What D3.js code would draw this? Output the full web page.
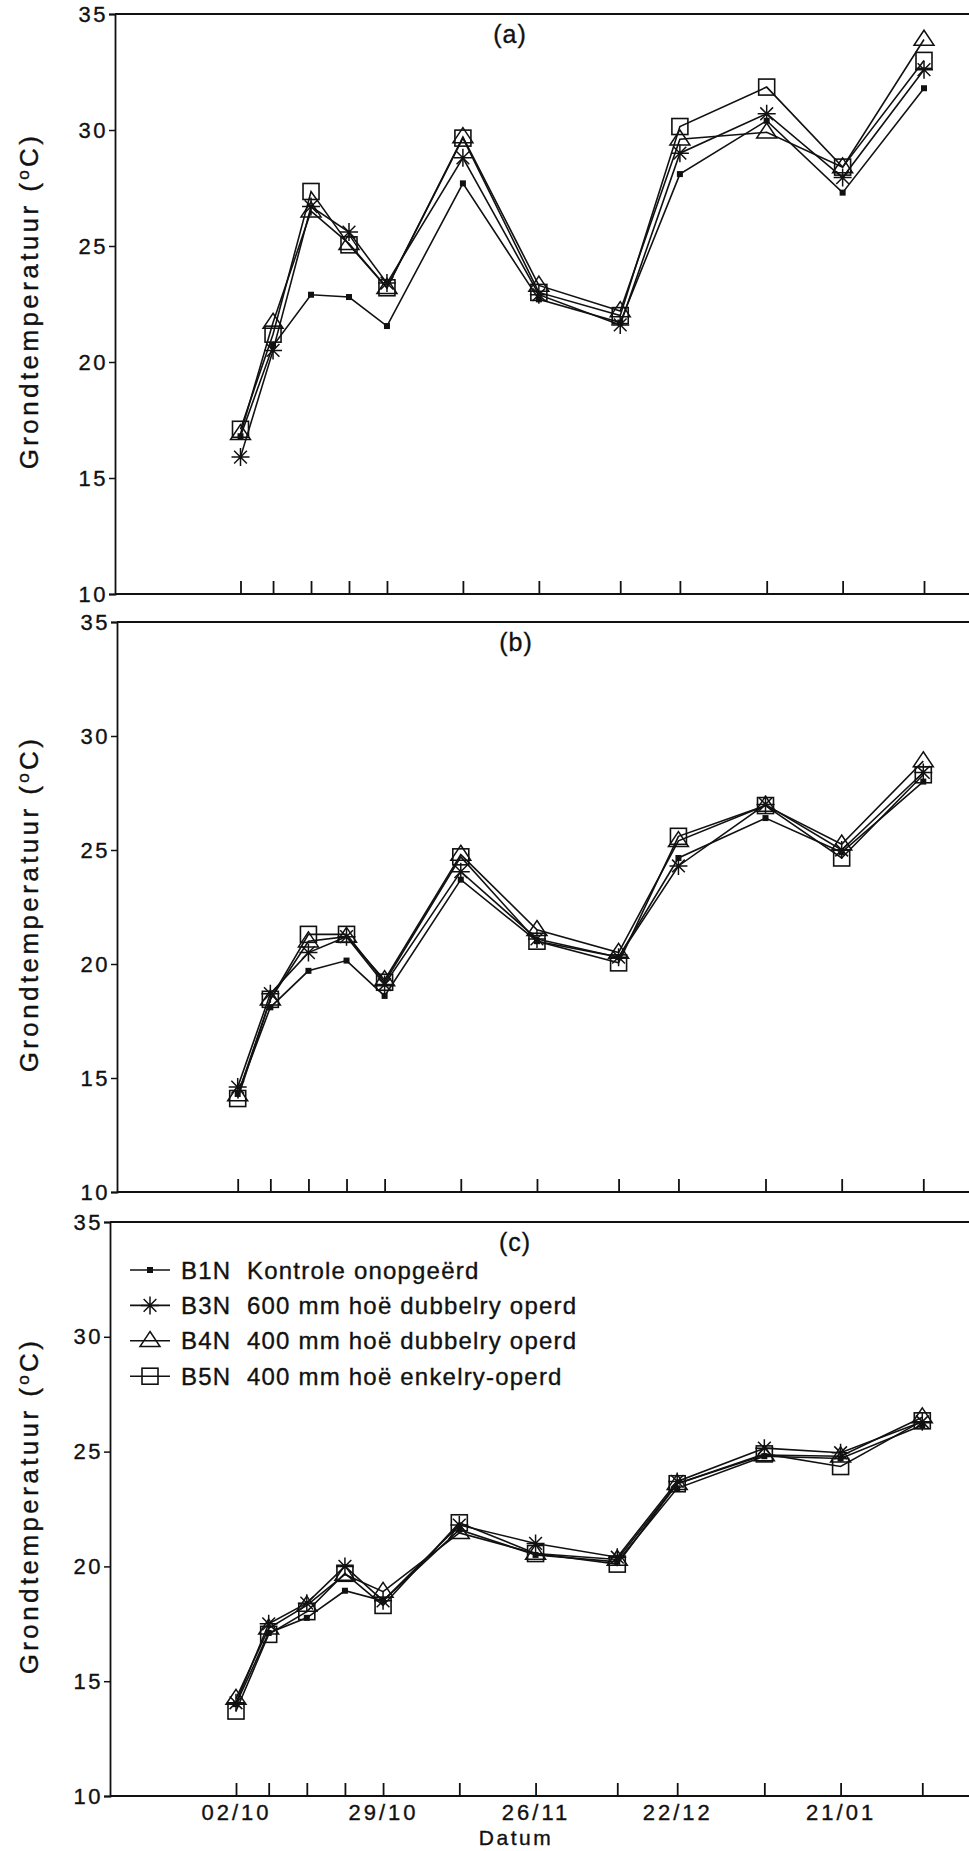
<!DOCTYPE html>
<html>
<head>
<meta charset="utf-8">
<script src="https://cdn.jsdelivr.net/npm/d3@7"></script>
<style>
  html, body { margin: 0; padding: 0; background: #fff; }
  svg { display: block; }
  text { font-family: "Liberation Sans", Arial, Helvetica, sans-serif; fill: #111; stroke: #111; stroke-width: 0.35px; }
</style>
</head>
<body>
<svg id="chart" width="969" height="1851"></svg>
<script>
// Measurement dates (day/month), shared by the three depth panels
const dates = ["1991-10-02", "1991-10-08", "1991-10-15", "1991-10-22", "1991-10-29",
               "1991-11-12", "1991-11-26", "1991-12-11", "1991-12-22", "1992-01-07",
               "1992-01-21", "1992-02-05"];
const labelledDates = ["1991-10-02", "1991-10-29", "1991-11-26", "1991-12-22", "1992-01-21"];
const yTicks = [10, 15, 20, 25, 30, 35];

const seriesNames = ["B1N", "B3N", "B4N", "B5N"];
const legendLabels = [
  "B1N  Kontrole onopgeërd",
  "B3N  600 mm hoë dubbelry operd",
  "B4N  400 mm hoë dubbelry operd",
  "B5N  400 mm hoë enkelry-operd"
];
const panelTags = ["(a)", "(b)", "(c)"];

// Soil temperature (°C), panel (a)
const b1nA = [16.8, 20.7, 22.9, 22.8, 21.55, 27.7, 22.7, 21.7, 28.1, 30.4, 27.3, 31.8];
const b3nA = [15.9, 20.5, 26.7, 25.6, 23.4, 28.8, 22.9, 21.6, 29.0, 30.7, 27.95, 32.6];
const b4nA = [16.9, 21.7, 26.5, 25.1, 23.2, 29.7, 23.3, 22.2, 29.6, 29.9, 28.4, 33.9];
const b5nA = [17.1, 21.2, 27.35, 25.05, 23.2, 29.65, 23.0, 22.0, 30.15, 31.85, 28.4, 33.0];

// panel (b)
const b1nB = [14.3, 18.1, 19.7, 20.15, 18.6, 23.7, 21.0, 20.3, 24.65, 26.4, 24.9, 28.0];
const b3nB = [14.6, 18.7, 20.5, 21.2, 19.1, 24.05, 21.1, 20.3, 24.3, 27.0, 25.0, 28.4];
const b4nB = [14.25, 18.45, 21.0, 21.2, 19.3, 24.8, 21.5, 20.5, 25.4, 26.95, 25.25, 28.9];
const b5nB = [14.1, 18.45, 21.3, 21.3, 19.2, 24.7, 21.0, 20.05, 25.6, 26.95, 24.65, 28.3];

// panel (c)
const b1nC = [14.0, 17.1, 17.76, 18.94, 18.5, 21.6, 20.5, 20.2, 23.4, 24.8, 24.7, 26.15];
const b3nC = [14.06, 17.5, 18.4, 20.0, 18.5, 21.8, 21.0, 20.4, 23.7, 25.15, 24.95, 26.3];
const b4nC = [14.24, 17.3, 18.3, 19.65, 18.9, 21.46, 20.56, 20.3, 23.6, 24.85, 24.8, 26.5];
const b5nC = [13.7, 17.04, 18.03, 19.7, 18.3, 21.9, 20.56, 20.1, 23.6, 24.9, 24.35, 26.34];

const parseDate = d3.timeParse("%Y-%m-%d");
const dateObjs = dates.map(parseDate);
const labelSet = new Set(labelledDates);

const W = 969;
const ink = "#111";

// Panel frames
const panels = [
  { tag: panelTags[0], values: [b1nA, b3nA, b4nA, b5nA], left: 115, top: 14,   bottom: 594,  x0: 240.5, x1: 924,   tagX: 510, legend: false, dateLabels: false },
  { tag: panelTags[1], values: [b1nB, b3nB, b4nB, b5nB], left: 117, top: 622,  bottom: 1192, x0: 237.7, x1: 923.3, tagX: 516, legend: false, dateLabels: false },
  { tag: panelTags[2], values: [b1nC, b3nC, b4nC, b5nC], left: 110, top: 1222, bottom: 1796, x0: 236,   x1: 922.3, tagX: 515, legend: true,  dateLabels: true }
];

const svg = d3.select("#chart");

function drawMarker(g, kind, cx, cy) {
  if (kind === 0) {
    g.append("rect").attr("x", cx - 3).attr("y", cy - 3)
      .attr("width", 6).attr("height", 6).attr("fill", ink);
  } else if (kind === 1) {
    const r = 9;
    let d = "";
    for (let k = 0; k < 4; k++) {
      const a = k * Math.PI / 4;
      const dx = r * Math.cos(a), dy = r * Math.sin(a);
      d += `M${cx - dx},${cy - dy}L${cx + dx},${cy + dy}`;
    }
    g.append("path").attr("d", d).attr("stroke", ink).attr("stroke-width", 1.5).attr("fill", "none");
  } else if (kind === 2) {
    const h = 15, w = 20;
    g.append("path")
      .attr("d", `M${cx},${cy - h * 0.62}L${cx + w / 2},${cy + h * 0.38}L${cx - w / 2},${cy + h * 0.38}Z`)
      .attr("stroke", ink).attr("stroke-width", 1.5).attr("fill", "none");
  } else {
    const s = 16;
    g.append("rect").attr("x", cx - s / 2).attr("y", cy - s / 2)
      .attr("width", s).attr("height", s)
      .attr("stroke", ink).attr("stroke-width", 1.6).attr("fill", "none");
  }
}

panels.forEach(p => {
  const g = svg.append("g");
  const x = d3.scaleTime().domain([dateObjs[0], dateObjs[dateObjs.length - 1]]).range([p.x0, p.x1]);
  const y = d3.scaleLinear().domain([10, 35]).range([p.bottom, p.top]);

  // frame: top border and bottom baseline run to the right edge
  g.append("line").attr("x1", p.left).attr("x2", W).attr("y1", p.top).attr("y2", p.top)
    .attr("stroke", ink).attr("stroke-width", 1.8);
  g.append("line").attr("x1", p.left).attr("x2", W).attr("y1", p.bottom).attr("y2", p.bottom)
    .attr("stroke", ink).attr("stroke-width", 1.8);

  // y axis
  const yAxis = d3.axisLeft(y).tickValues(yTicks).tickSize(6).tickPadding(1).tickFormat(d3.format("d"));
  const yg = g.append("g").attr("transform", `translate(${p.left},0)`).call(yAxis);
  yg.select(".domain").attr("stroke", ink).attr("stroke-width", 1.8);
  yg.selectAll(".tick line").attr("stroke", ink).attr("stroke-width", 1.5);
  yg.selectAll(".tick text").attr("font-size", 22).style("letter-spacing", "2.5px").attr("fill", ink);

  // x axis: ticks point inward at each measurement date
  const xAxis = d3.axisBottom(x).tickValues(dateObjs).tickSizeInner(-13).tickSizeOuter(0).tickPadding(8)
    .tickFormat(d => (p.dateLabels && labelSet.has(d3.timeFormat("%Y-%m-%d")(d))) ? d3.timeFormat("%d/%m")(d) : "");
  const xg = g.append("g").attr("transform", `translate(0,${p.bottom})`).call(xAxis);
  xg.select(".domain").remove();
  xg.selectAll(".tick line").attr("stroke", ink).attr("stroke-width", 1.8);
  xg.selectAll(".tick text").attr("font-size", 22).style("letter-spacing", "3px").attr("fill", ink);

  // y axis title
  const cy = (p.top + p.bottom) / 2 - 3;
  const t = g.append("text")
    .attr("transform", `translate(29,${cy}) rotate(-90)`)
    .attr("text-anchor", "middle").attr("dy", "0.35em")
    .attr("font-size", 26).style("letter-spacing", "3.4px");
  t.append("tspan").text("Grondtemperatuur (");
  t.append("tspan").attr("font-size", 17).attr("dy", "-0.55em").text("o");
  t.append("tspan").attr("dy", "0.36em").text("C)");

  // panel tag
  g.append("text").attr("x", p.tagX).attr("y", p.top + 29).attr("text-anchor", "middle")
    .attr("font-size", 25).style("letter-spacing", "1px").text(p.tag);

  // series lines and markers
  const line = d3.line().x((v, i) => x(dateObjs[i])).y(v => y(v));
  p.values.forEach((vals, k) => {
    g.append("path").datum(vals).attr("d", line)
      .attr("fill", "none").attr("stroke", ink).attr("stroke-width", 1.6);
  });
  p.values.forEach((vals, k) => {
    const mg = g.append("g").attr("class", "markers-" + seriesNames[k]);
    vals.forEach((v, i) => drawMarker(mg, k, x(dateObjs[i]), y(v)));
  });

  // legend
  if (p.legend) {
    const lg = g.append("g");
    legendLabels.forEach((lab, k) => {
      const ry = p.top + 48 + k * 35.4;
      lg.append("line").attr("x1", 130).attr("x2", 170).attr("y1", ry).attr("y2", ry)
        .attr("stroke", ink).attr("stroke-width", 1.6);
      drawMarker(lg, k, 150, ry);
      lg.append("text").attr("x", 181).attr("y", ry).attr("dy", "0.36em")
        .attr("font-size", 24).style("letter-spacing", "1.2px").style("white-space", "pre")
        .text(lab);
    });
  }
});

// x axis title
svg.append("text").attr("x", 516).attr("y", 1845).attr("text-anchor", "middle")
  .attr("font-size", 21).style("letter-spacing", "2.5px").text("Datum");
</script>
</body>
</html>
